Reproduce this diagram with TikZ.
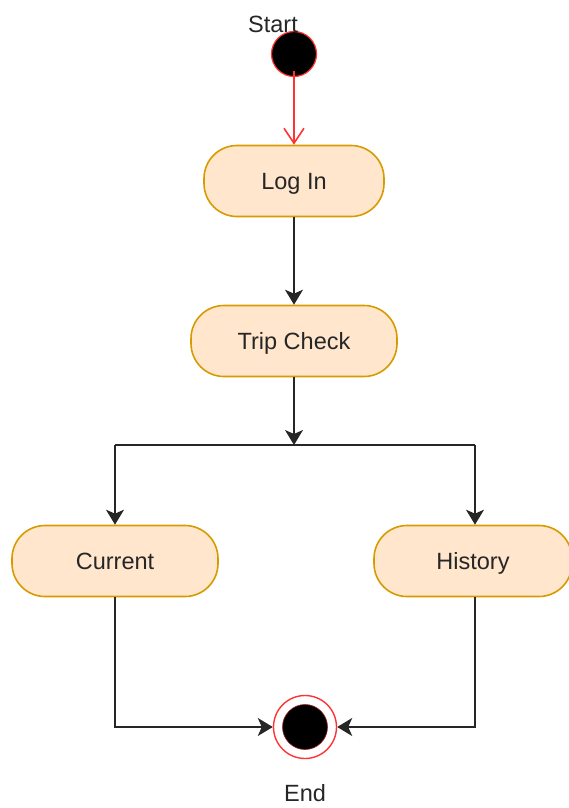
\documentclass[tikz,border=0pt]{standalone}
\usepackage{fontspec}
\setmainfont{Liberation Sans}
\usetikzlibrary{arrows.meta}
\definecolor{boxfill}{HTML}{FFE6CC}
\definecolor{boxline}{HTML}{D79B00}
\definecolor{txt}{HTML}{262626}
\definecolor{startred}{HTML}{FF3333}
\begin{document}
\begin{tikzpicture}[x=1pt,y=-1pt,
  lbl/.style={text=txt,font=\fontsize{23.5}{28}\selectfont},
  activity/.style={draw=boxline,fill=boxfill,line width=1.6pt,rounded corners=33pt,
    minimum height=71pt,lbl,inner sep=0pt,text height=16.8pt,text depth=0pt},
  flow/.style={draw=black!85,line width=1.6pt,-{Stealth[length=15pt,width=18pt,inset=4pt]}},
  plain/.style={draw=black!85,line width=1.6pt}]
\useasboundingbox (0,0) rectangle (569,808);
% initial state
\node[circle,fill=black,draw=startred,line width=1.2pt,minimum size=45pt,inner sep=0pt] (start) at (294,54) {};
\node[lbl,anchor=center] (startlbl) at (273,24) {Start};
% activities
\node[activity,minimum width=180pt] (login) at (294,181) {Log In};
\node[activity,minimum width=206pt] (trip) at (294,341) {Trip Check};
\node[activity,minimum width=206pt] (cur) at (115,561) {Current};
\node[activity,minimum width=198pt] (hist) at (473,561) {History};
% final state
\node[circle,fill=white,draw=startred,line width=1.4pt,minimum size=63pt,inner sep=0pt] (end) at (305,727) {};
\node[circle,fill=black,draw=startred!60!black,line width=0.6pt,minimum size=45pt,inner sep=0pt] (endcore) at (end.center) {};
\node[lbl] (endlbl) at (305,793) {End};
% fork junction
\coordinate (j) at (294,445);
\coordinate (jl) at (115,445);
\coordinate (jr) at (475,445);
% connectors
\draw[draw=startred,line width=1.6pt,-{Straight Barb[length=15pt,width=20pt]}] ([yshift=6pt]start.south) -- (login.north);
\draw[flow] (login.south) -- (trip.north);
\draw[flow] (trip.south) -- (j);
\draw[plain] (jl) -- (jr);
\draw[flow] (jl) -- (cur.north);
\draw[flow] (jr) -- (hist.north -| jr);
\draw[flow] (cur.south) |- (end.west);
\draw[flow] (hist.south -| jr) |- (end.east);
\end{tikzpicture}
\end{document}
